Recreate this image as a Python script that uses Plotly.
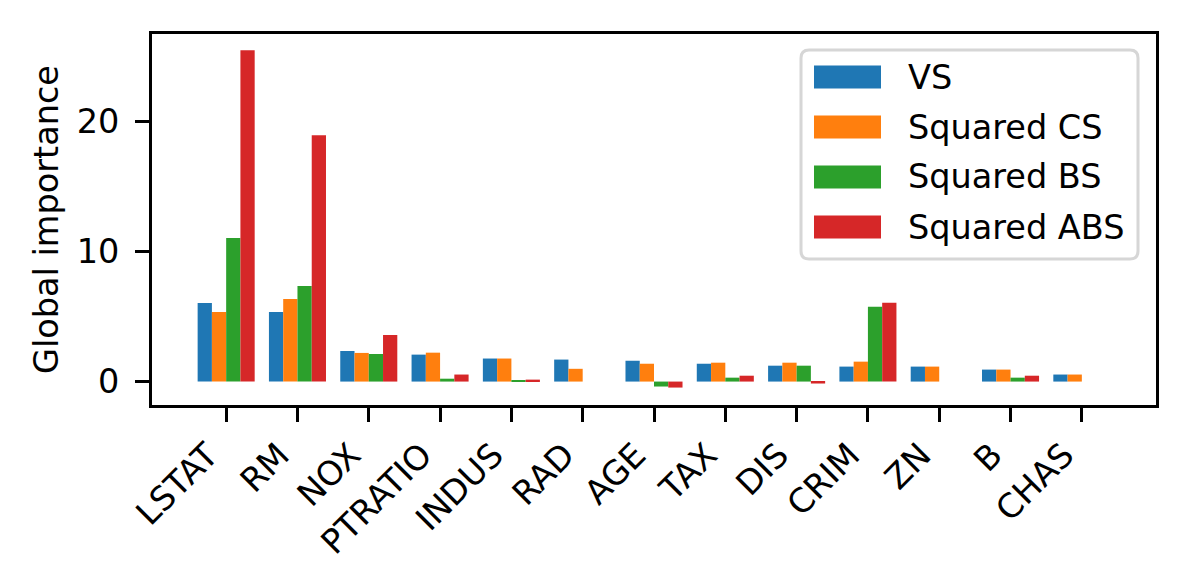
import plotly.graph_objects as go

# feature names on the x axis
features = ["LSTAT", "RM", "NOX", "PTRATIO", "INDUS", "RAD", "AGE",
            "TAX", "DIS", "CRIM", "ZN", "B", "CHAS"]

# global importance per score type
vs = [6.04, 5.35, 2.35, 2.07, 1.77, 1.69, 1.60, 1.37, 1.22, 1.15, 1.15, 0.92, 0.54]
squared_cs = [5.35, 6.35, 2.20, 2.22, 1.77, 0.98, 1.37, 1.45, 1.45, 1.53, 1.15, 0.92, 0.54]
squared_bs = [11.03, 7.35, 2.12, 0.22, 0.08, 0.0, -0.38, 0.30, 1.22, 5.75, 0.0, 0.30, 0.0]
squared_abs = [25.45, 18.93, 3.58, 0.54, 0.15, 0.0, -0.46, 0.45, -0.15, 6.06, 0.0, 0.45, 0.0]

series_names = ["VS", "Squared CS", "Squared BS", "Squared ABS"]
series_values = [vs, squared_cs, squared_bs, squared_abs]
colors = ["#1f77b4", "#ff7f0e", "#2ca02c", "#d62728"]

# the page body has an 8px margin, so the figure is drawn 8px in
OFF = 8
W, H = 1188 - 2 * OFF, 588 - 2 * OFF
L, R, T, B = 152 - OFF, 1188 - OFF - 1156, 34 - OFF, 588 - OFF - 405
FONT = "DejaVu Sans"
FS = 33.5

fig = go.Figure()
for name, vals, col in zip(series_names, series_values, colors):
    fig.add_trace(go.Bar(x=features, y=vals, name=name,
                         marker=dict(color=col, line=dict(width=0))))


# screen pixel -> paper helpers for the hand-drawn legend
def px_x(p):
    return (p - OFF - L) / (W - L - R)


def px_y(p):
    return (H - B - (p - OFF)) / (H - T - B)


# legend box with rounded corners, like matplotlib's
xl, xr, yb, yt = px_x(801), px_x(1138), px_y(259), px_y(50)
rx, ry = 8 / (W - L - R), 8 / (H - T - B)
box = (f"M{xl+rx},{yb} L{xr-rx},{yb} Q{xr},{yb} {xr},{yb+ry} "
       f"L{xr},{yt-ry} Q{xr},{yt} {xr-rx},{yt} L{xl+rx},{yt} "
       f"Q{xl},{yt} {xl},{yt-ry} L{xl},{yb+ry} Q{xl},{yb} {xl+rx},{yb} Z")
shapes = [dict(type="path", path=box, xref="paper", yref="paper",
               line=dict(color="#d6d6d6", width=3), fillcolor="white",
               layer="above")]
annotations = []
for i, (name, col) in enumerate(zip(series_names, colors)):
    cy = 77 + 50 * i
    shapes.append(dict(type="rect", xref="paper", yref="paper",
                       x0=px_x(814), x1=px_x(881),
                       y0=px_y(cy + 11.5), y1=px_y(cy - 11.5),
                       fillcolor=col, line=dict(width=0), layer="above"))
    annotations.append(dict(text=name, xref="paper", yref="paper",
                            x=px_x(906), y=px_y(cy), xanchor="left",
                            yanchor="middle", showarrow=False,
                            font=dict(family=FONT, size=FS, color="black")))

fig.update_layout(
    width=W, height=H,
    margin=dict(l=L, r=R, t=T, b=B, autoexpand=False),
    paper_bgcolor="white", plot_bgcolor="white",
    font=dict(family=FONT, size=FS, color="black"),
    barmode="group", bargap=0.2, bargroupgap=0,
    showlegend=False,
    shapes=shapes, annotations=annotations,
)
fig.update_xaxes(
    range=[-1.04, 13.04], showgrid=False, zeroline=False,
    showline=True, linecolor="black", linewidth=3, mirror=True,
    ticks="outside", ticklen=14, tickwidth=3, tickcolor="black",
    tickangle=-45, ticklabelshift=-18, automargin=False,
)
fig.update_yaxes(
    range=[-1.8, 26.7], showgrid=False, zeroline=False,
    showline=True, linecolor="black", linewidth=3, mirror=True,
    ticks="outside", ticklen=14, tickwidth=3, tickcolor="black",
    tickvals=[0, 10, 20], automargin=False, ticklabelstandoff=9,
    title=dict(text="Global importance", standoff=8,
               font=dict(family=FONT, size=FS)),
)

fig.write_html("out.html")
